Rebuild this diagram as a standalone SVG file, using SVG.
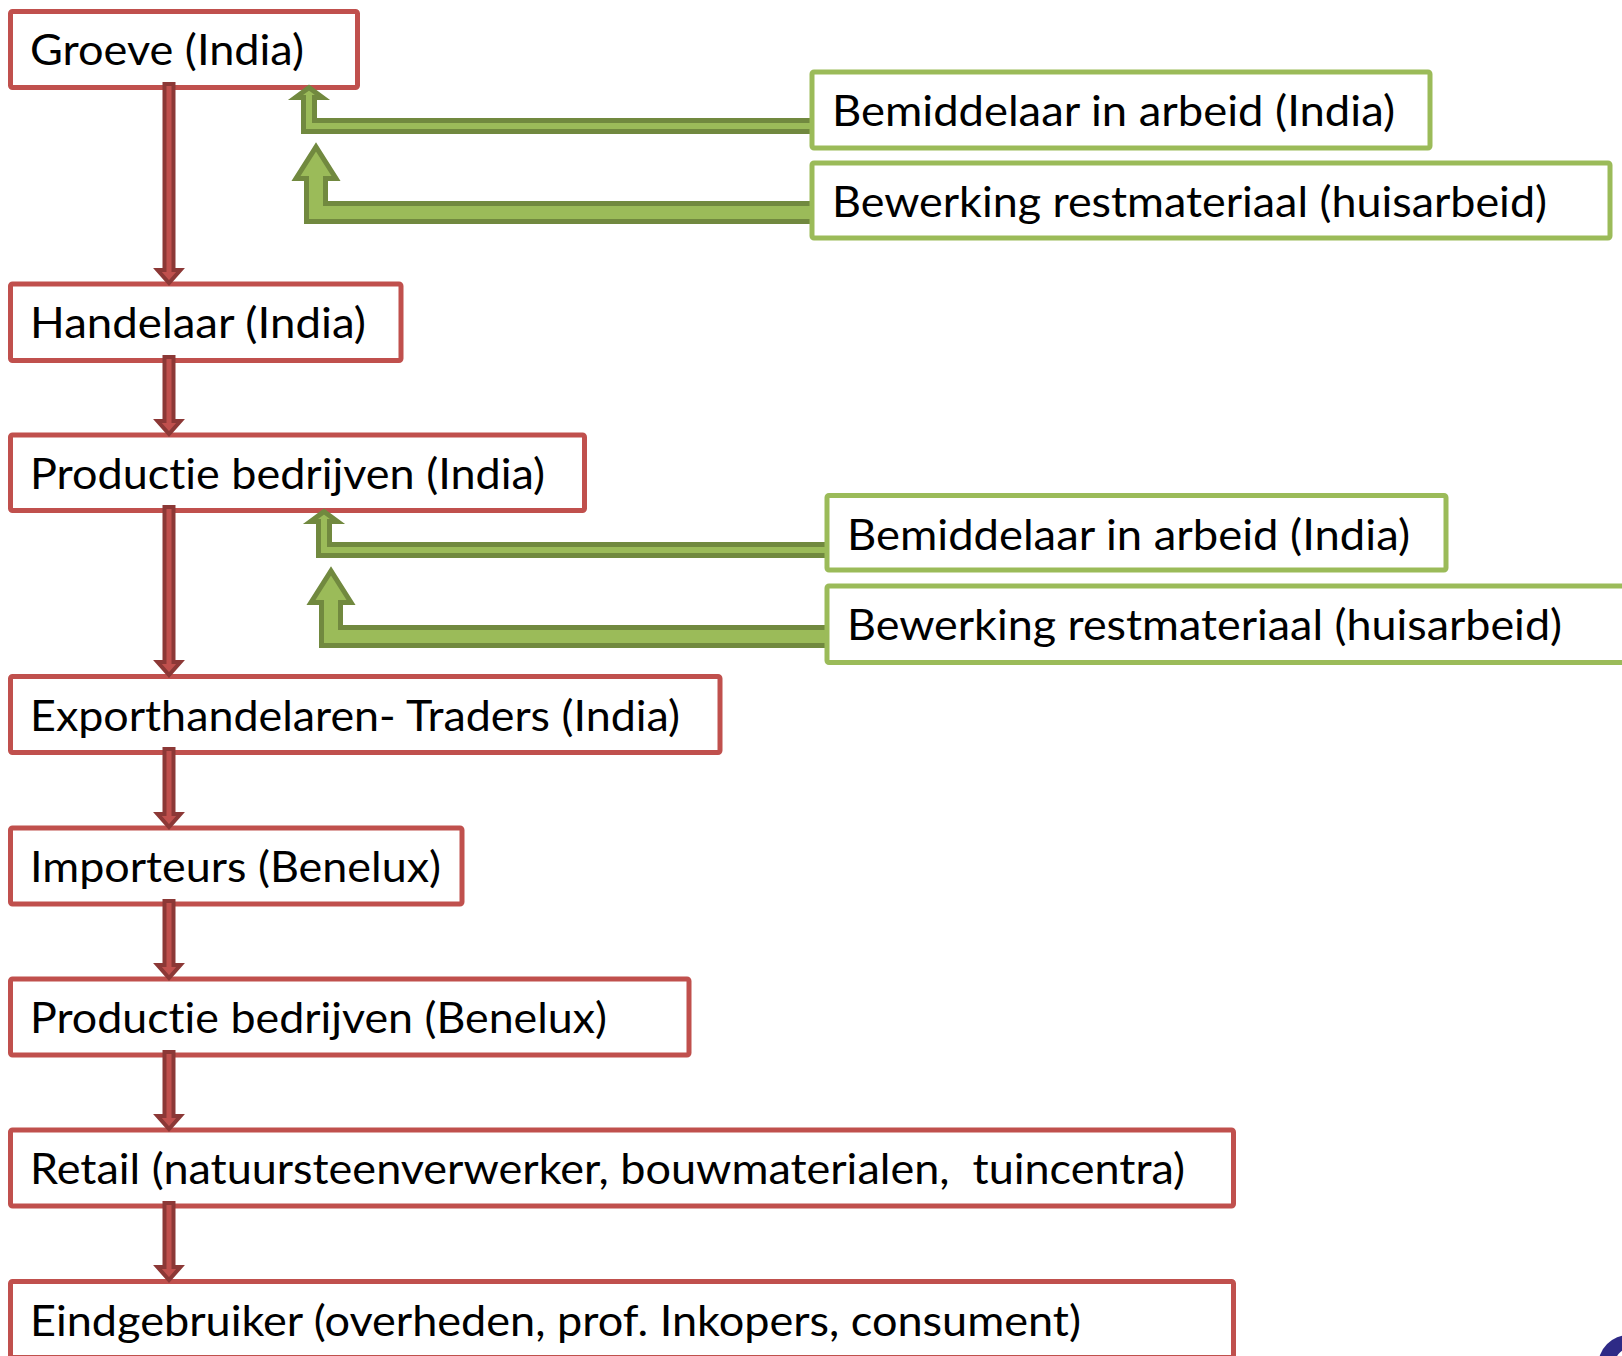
<svg xmlns="http://www.w3.org/2000/svg" width="1622" height="1356" viewBox="0 0 1622 1356">
<style>
.rbox{fill:#ffffff;stroke:#c0504d;stroke-width:5}
.gbox{fill:#ffffff;stroke:#9bbb59;stroke-width:5}
.t{font-family:Lato,"Open Sans","Liberation Sans",sans-serif;font-size:42px;fill:#000000;font-variant-ligatures:none;font-feature-settings:"liga" 0,"clig" 0;white-space:pre}
.ra{fill:#c0504d;stroke:#8c3836;stroke-width:4;stroke-linejoin:miter}
.ga{fill:#9bbb59;stroke:#71893f;stroke-width:5;stroke-linejoin:miter}
</style>
<rect width="1622" height="1356" fill="#ffffff"/>
<g id="groeve"><rect class="rbox" x="10.5" y="11.5" width="347" height="76" rx="2"/><text class="t" x="30" y="65" textLength="274" lengthAdjust="spacingAndGlyphs">Groeve (India)</text></g>
<g id="handelaar"><rect class="rbox" x="10.5" y="284" width="390.5" height="76.5" rx="2"/><text class="t" x="30" y="338" textLength="336" lengthAdjust="spacingAndGlyphs">Handelaar (India)</text></g>
<g id="productie-india"><rect class="rbox" x="10.5" y="435" width="574" height="75.5" rx="2"/><text class="t" x="30" y="489" textLength="515" lengthAdjust="spacingAndGlyphs">Productie bedrijven (India)</text></g>
<g id="export"><rect class="rbox" x="10.5" y="676.5" width="709.5" height="76" rx="2"/><text class="t" x="30" y="730.5" textLength="650" lengthAdjust="spacingAndGlyphs">Exporthandelaren- Traders (India)</text></g>
<g id="importeurs"><rect class="rbox" x="10.5" y="828" width="451.5" height="76" rx="2"/><text class="t" x="30" y="882" textLength="411" lengthAdjust="spacingAndGlyphs">Importeurs (Benelux)</text></g>
<g id="productie-benelux"><rect class="rbox" x="10.5" y="979" width="678.5" height="76" rx="2"/><text class="t" x="30" y="1033" textLength="577" lengthAdjust="spacingAndGlyphs">Productie bedrijven (Benelux)</text></g>
<g id="retail"><rect class="rbox" x="10.5" y="1130" width="1223" height="76" rx="2"/><text class="t" x="30" y="1184" textLength="1155" lengthAdjust="spacingAndGlyphs" xml:space="preserve">Retail (natuursteenverwerker, bouwmaterialen,  tuincentra)</text></g>
<g id="eindgebruiker"><rect class="rbox" x="10.5" y="1281.5" width="1223" height="76" rx="2"/><text class="t" x="30" y="1335.5" textLength="1051" lengthAdjust="spacingAndGlyphs">Eindgebruiker (overheden, prof. Inkopers, consument)</text></g>
<g id="connectors">
<polygon class="ra" points="164.5,84 173.5,84 173.5,270 180.5,270 169,283 157.5,270 164.5,270"/>
<polygon class="ra" points="164.5,357 173.5,357 173.5,421 180.5,421 169,434 157.5,421 164.5,421"/>
<polygon class="ra" points="164.5,507 173.5,507 173.5,662 180.5,662 169,675 157.5,662 164.5,662"/>
<polygon class="ra" points="164.5,749 173.5,749 173.5,814 180.5,814 169,827 157.5,814 164.5,814"/>
<polygon class="ra" points="164.5,901 173.5,901 173.5,965 180.5,965 169,978 157.5,965 164.5,965"/>
<polygon class="ra" points="164.5,1052 173.5,1052 173.5,1116 180.5,1116 169,1129 157.5,1116 164.5,1116"/>
<polygon class="ra" points="164.5,1203 173.5,1203 173.5,1267 180.5,1267 169,1280 157.5,1267 164.5,1267"/>
<g id="green-arrows-1">
<polygon class="ga" points="814,120.5 314.5,120.5 314.5,97.5 322.5,97.5 309,87.5 295.5,97.5 303.5,97.5 303.5,131.5 814,131.5"/>
<polygon class="ga" points="814,203.5 325.5,203.5 325.5,178.5 336,178.5 316,147 296,178.5 306.5,178.5 306.5,221.5 814,221.5"/>
</g>
<g id="green-arrows-2" transform="translate(15,424)">
<polygon class="ga" points="814,120.5 314.5,120.5 314.5,97.5 322.5,97.5 309,87.5 295.5,97.5 303.5,97.5 303.5,131.5 814,131.5"/>
<polygon class="ga" points="814,203.5 325.5,203.5 325.5,178.5 336,178.5 316,147 296,178.5 306.5,178.5 306.5,221.5 814,221.5"/>
</g>
</g>
<g id="bemiddelaar-1"><rect class="gbox" x="812" y="72" width="618" height="76" rx="2"/><text class="t" x="832" y="126" textLength="563" lengthAdjust="spacingAndGlyphs">Bemiddelaar in arbeid (India)</text></g>
<g id="bewerking-1"><rect class="gbox" x="812" y="163" width="798" height="75" rx="2"/><text class="t" x="832" y="217" textLength="715" lengthAdjust="spacingAndGlyphs">Bewerking restmateriaal (huisarbeid)</text></g>
<g id="bemiddelaar-2"><rect class="gbox" x="827" y="495.5" width="619" height="74.5" rx="2"/><text class="t" x="847" y="549.5" textLength="563" lengthAdjust="spacingAndGlyphs">Bemiddelaar in arbeid (India)</text></g>
<g id="bewerking-2"><rect class="gbox" x="827" y="586" width="820" height="76.5" rx="2"/><text class="t" x="847" y="640" textLength="715" lengthAdjust="spacingAndGlyphs">Bewerking restmateriaal (huisarbeid)</text></g>
<g id="logo"><circle cx="1629" cy="1366" r="31" fill="#2e2a86"/><circle cx="1631" cy="1364" r="14" fill="none" stroke="#ffffff" stroke-width="4"/></g>
</svg>
